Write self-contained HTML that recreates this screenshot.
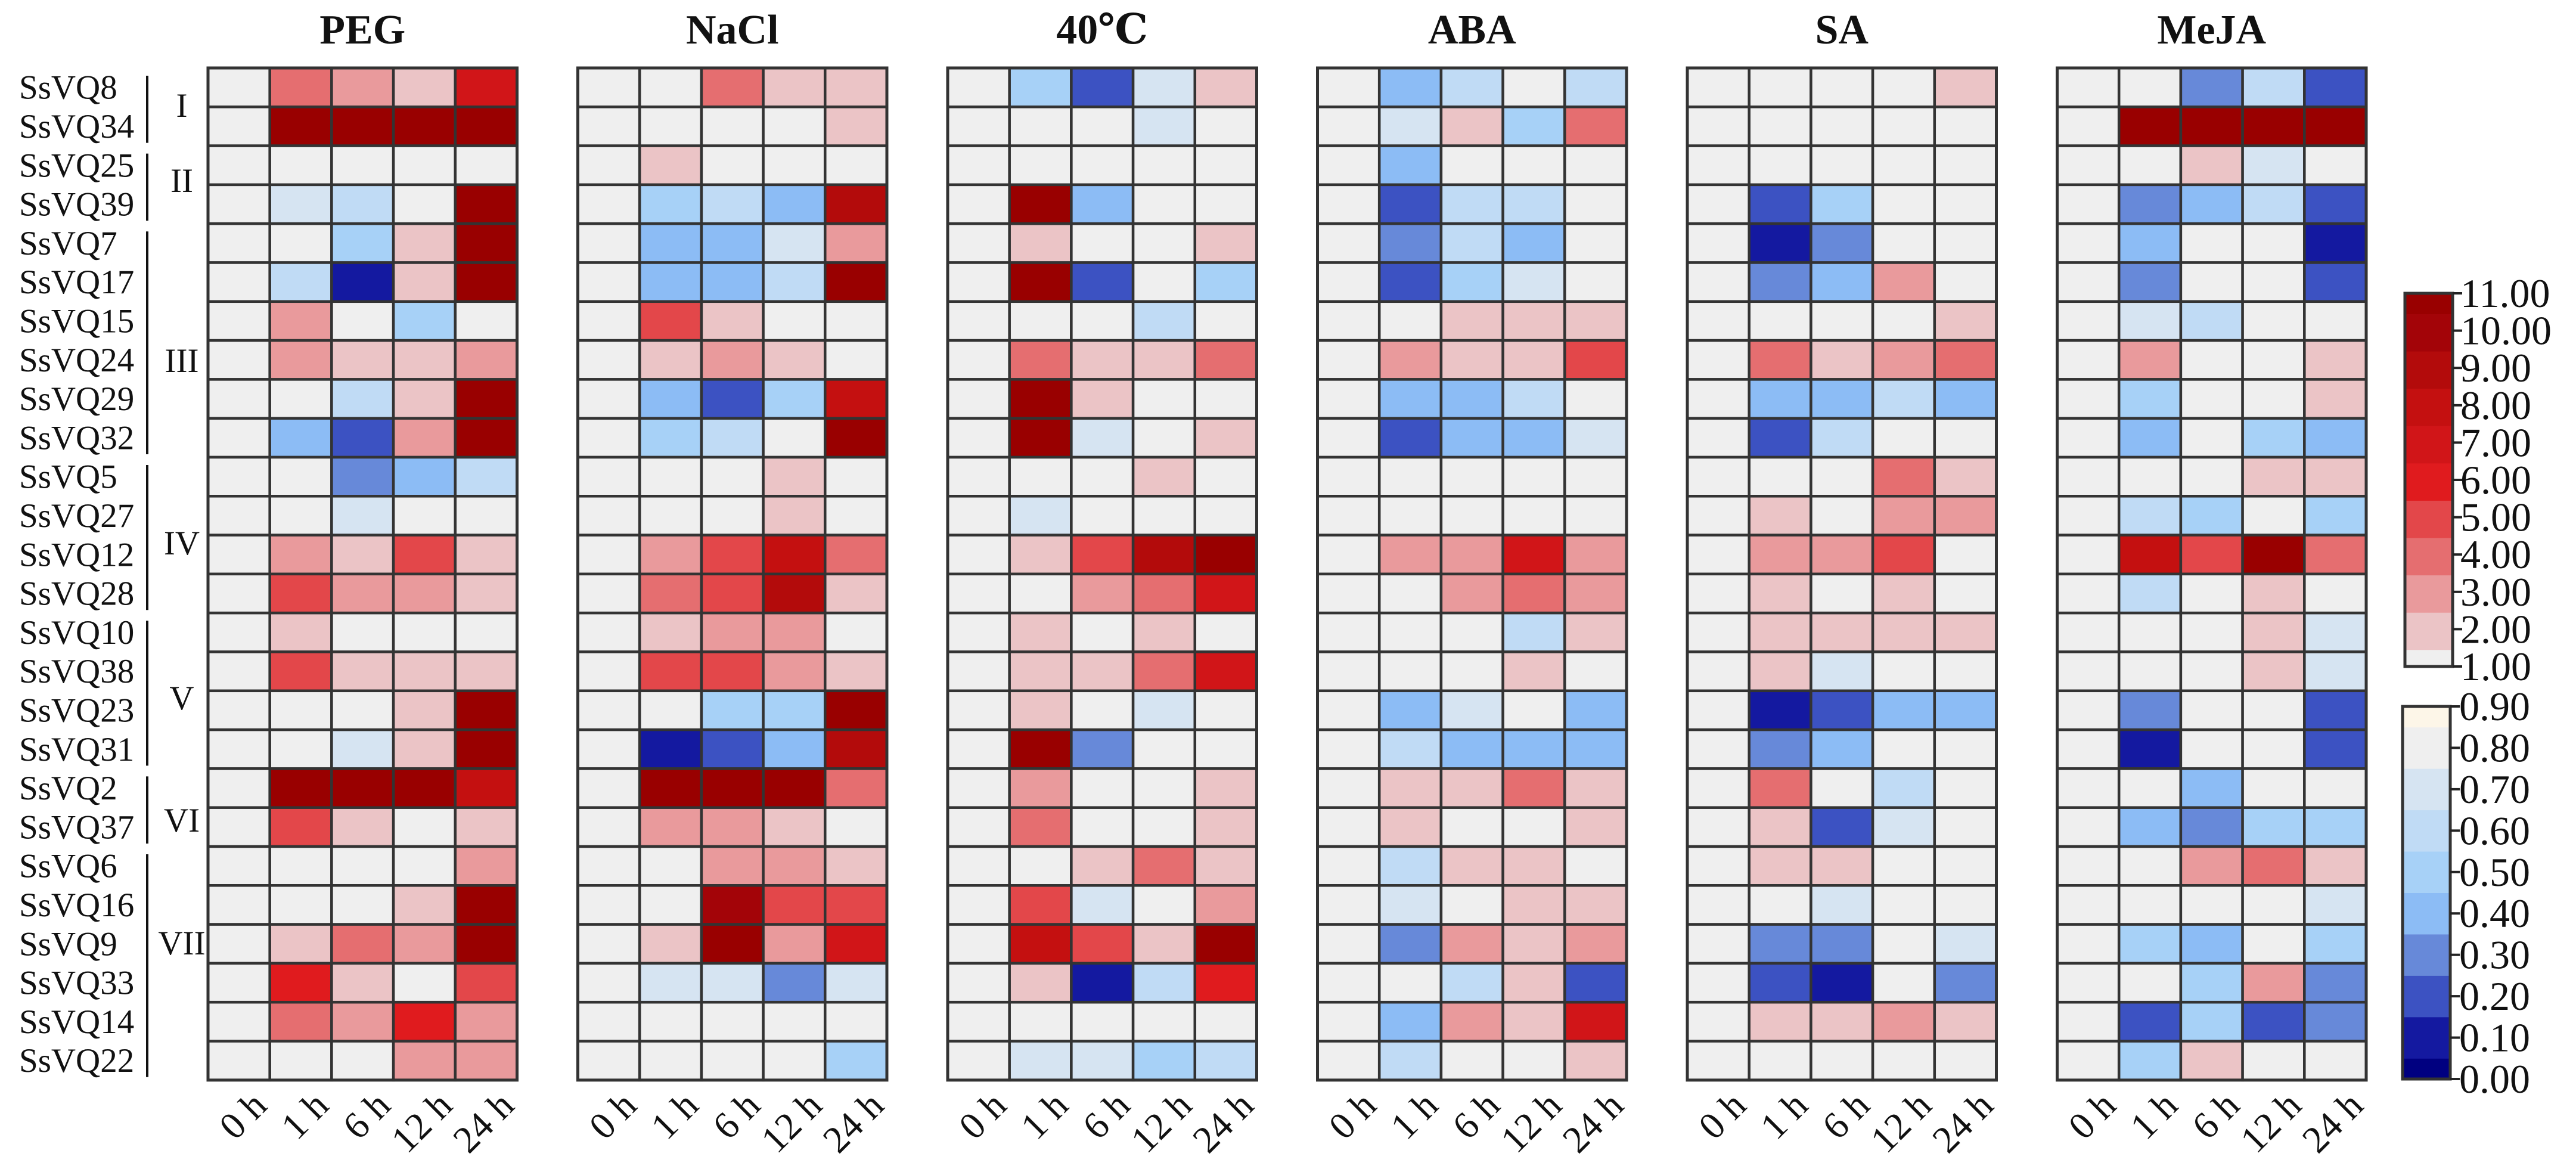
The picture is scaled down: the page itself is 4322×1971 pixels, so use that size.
<!DOCTYPE html>
<html><head><meta charset="utf-8"><style>
html,body{margin:0;padding:0;background:#fff;}
svg{display:block;}
text{font-family:"Liberation Serif","DejaVu Serif",serif;fill:#111;}
</style></head><body>
<svg id="chart" xmlns="http://www.w3.org/2000/svg" width="4322" height="1971" viewBox="0 0 4322 1971"></svg>
<script>
const genes = ["SsVQ8","SsVQ34","SsVQ25","SsVQ39","SsVQ7","SsVQ17","SsVQ15","SsVQ24","SsVQ29","SsVQ32","SsVQ5","SsVQ27","SsVQ12","SsVQ28","SsVQ10","SsVQ38","SsVQ23","SsVQ31","SsVQ2","SsVQ37","SsVQ6","SsVQ16","SsVQ9","SsVQ33","SsVQ14","SsVQ22"];
const times = ["0 h","1 h","6 h","12 h","24 h"];
const treatments = ["PEG","NaCl","40℃","ABA","SA","MeJA"];
const groupNames = ["I","II","III","IV","V","VI","VII"];
const groupStart = [0,2,4,10,14,18,20];
const groupEnd = [2,4,10,14,18,20,26];
const groupLabelY = [177,303,605,911,1171,1376,1582];
const redTicks = ["11.00","10.00","9.00","8.00","7.00","6.00","5.00","4.00","3.00","2.00","1.00"];
const blueTicks = ["0.90","0.80","0.70","0.60","0.50","0.40","0.30","0.20","0.10","0.00"];

const valPEG = [
[1,3.5,2.5,1.6,6.5],[1,10.5,10.5,10.5,10.5],[1,1,1,1,1],[1,.75,.65,1,10.5],[1,1,.55,1.6,10.5],
[1,.65,.15,1.6,10.5],[1,2.5,1,.55,1],[1,2.5,1.6,1.6,2.5],[1,1,.65,1.6,10.5],[1,.45,.25,2.5,10.5],
[1,1,.35,.45,.65],[1,1,.75,1,1],[1,2.5,1.6,4.5,1.6],[1,4.5,2.5,2.5,1.6],[1,1.6,1,1,1],
[1,4.5,1.6,1.6,1.6],[1,1,1,1.6,10.5],[1,1,.75,1.6,10.5],[1,10.5,10.5,10.5,7.5],[1,4.5,1.6,1,1.6],
[1,1,1,1,2.5],[1,1,1,1.6,10.5],[1,1.6,3.5,2.5,10.5],[1,5.5,1.6,1,4.5],[1,3.5,2.5,5.5,2.5],[1,1,1,2.5,2.5]];
const valNaCl = [
[1,1,3.5,1.6,1.6],[1,1,1,1,1.6],[1,1.6,1,1,1],[1,.55,.65,.45,8.5],[1,.45,.45,.75,2.5],
[1,.45,.45,.65,10.5],[1,4.5,1.6,1,1],[1,1.6,2.5,1.6,1],[1,.45,.25,.55,7.5],[1,.55,.65,1,10.5],
[1,1,1,1.6,1],[1,1,1,1.6,1],[1,2.5,4.5,7.5,3.5],[1,3.5,4.5,8.5,1.6],[1,1.6,2.5,2.5,1],
[1,4.5,4.5,2.5,1.6],[1,1,.55,.55,10.5],[1,.15,.25,.45,8.5],[1,10.5,10.5,10.5,3.5],[1,2.5,2.5,1.6,1],
[1,1,2.5,2.5,1.6],[1,1,9.5,4.5,4.5],[1,1.6,10.5,2.5,6.5],[1,.75,.75,.35,.75],[1,1,1,1,1],[1,1,1,1,.55]];
const valHeat = [
[1,.55,.25,.75,1.6],[1,1,1,.75,1],[1,1,1,1,1],[1,10.5,.45,1,1],[1,1.6,1,1,1.6],
[1,10.5,.25,1,.55],[1,1,1,.65,1],[1,3.5,1.6,1.6,3.5],[1,10.5,1.6,1,1],[1,10.5,.75,1,1.6],
[1,1,1,1.6,1],[1,.75,1,1,1],[1,1.6,4.5,8.5,10.5],[1,1,2.5,3.5,6.5],[1,1.6,1,1.6,1],
[1,1.6,1.6,3.5,6.5],[1,1.6,1,.75,1],[1,10.5,.35,1,1],[1,2.5,1,1,1.6],[1,3.5,1,1,1.6],
[1,1,1.6,3.5,1.6],[1,4.5,.75,1,2.5],[1,7.5,4.5,1.6,10.5],[1,1.6,.15,.65,5.5],[1,1,1,1,1],[1,.75,.75,.55,.65]];
const valABA = [
[1,.45,.65,1,.65],[1,.75,1.6,.55,3.5],[1,.45,1,1,1],[1,.25,.65,.65,1],[1,.35,.65,.45,1],
[1,.25,.55,.75,1],[1,1,1.6,1.6,1.6],[1,2.5,1.6,1.6,4.5],[1,.45,.45,.65,1],[1,.25,.45,.45,.75],
[1,1,1,1,1],[1,1,1,1,1],[1,2.5,2.5,6.5,2.5],[1,1,2.5,3.5,2.5],[1,1,1,.65,1.6],
[1,1,1,1.6,1],[1,.45,.75,1,.45],[1,.65,.45,.45,.45],[1,1.6,1.6,3.5,1.6],[1,1.6,1,1,1.6],
[1,.65,1.6,1.6,1],[1,.75,1,1.6,1.6],[1,.35,2.5,1.6,2.5],[1,1,.65,1.6,.25],[1,.45,2.5,1.6,6.5],[1,.65,1,1,1.6]];
const valSA = [
[1,1,1,1,1.6],[1,1,1,1,1],[1,1,1,1,1],[1,.25,.55,1,1],[1,.15,.35,1,1],
[1,.35,.45,2.5,1],[1,1,1,1,1.6],[1,3.5,1.6,2.5,3.5],[1,.45,.45,.65,.45],[1,.25,.65,1,1],
[1,1,1,3.5,1.6],[1,1.6,1,2.5,2.5],[1,2.5,2.5,4.5,1],[1,1.6,1,1.6,1],[1,1.6,1.6,1.6,1.6],
[1,1.6,.75,1,1],[1,.15,.25,.45,.45],[1,.35,.45,1,1],[1,3.5,1,.65,1],[1,1.6,.25,.75,1],
[1,1.6,1.6,1,1],[1,1,.75,1,1],[1,.35,.35,1,.75],[1,.25,.15,1,.35],[1,1.6,1.6,2.5,1.6],[1,1,1,1,1]];
const valMeJA = [
[1,1,.35,.65,.25],[1,10.5,10.5,10.5,10.5],[1,1,1.6,.75,1],[1,.35,.45,.65,.25],[1,.45,1,1,.15],
[1,.35,1,1,.25],[1,.75,.65,1,1],[1,2.5,1,1,1.6],[1,.55,1,1,1.6],[1,.45,1,.55,.45],
[1,1,1,1.6,1.6],[1,.65,.55,1,.55],[1,7.5,4.5,10.5,3.5],[1,.65,1,1.6,1],[1,1,1,1.6,.75],
[1,1,1,1.6,.75],[1,.35,1,1,.25],[1,.15,1,1,.25],[1,1,.45,1,1],[1,.45,.35,.55,.55],
[1,1,2.5,3.5,1.6],[1,1,1,1,.75],[1,.55,.45,1,.55],[1,1,.55,2.5,.35],[1,.25,.55,.25,.35],[1,.55,1.6,1,1]];
const allVals = [valPEG,valNaCl,valHeat,valABA,valSA,valMeJA];

const NS="http://www.w3.org/2000/svg";
const svg=document.getElementById('chart');
function mk(tag,attrs,parent){const e=document.createElementNS(NS,tag);for(const k in attrs)e.setAttribute(k,attrs[k]);(parent||svg).appendChild(e);return e;}

const gridTop=114, rowH=65.3, colW=103.7, panelX0=349, panelStep=620.5;
const xPos=(p,c)=>panelX0+p*panelStep+c*colW;
const yPos=r=>gridTop+r*rowH;

const redCols=["#efefef","#ebc4c6","#e99a9c","#e56e70","#e3474a","#e01b1e","#d11518","#c41010","#b30b0b","#a30408","#990000"];
const blueCols=["#000080","#1419a0","#3c52c2","#6789d9","#8cbcf5","#a7d1f7","#c0dbf5","#d6e4f2","#efefef","#fdf6e8"];
function colorOf(v){
  if(v>=1.2){const i=Math.min(10,Math.floor(v));return redCols[i];}
  if(v>=0.8)return "#efefef";
  const i=Math.max(0,Math.floor(v*10));return blueCols[i];
}

treatments.forEach((t,p)=>{
  const g=mk('g',{});
  
  
  const title=mk('text',{x:xPos(p,2.5),y:73,'text-anchor':'middle','font-size':70,'font-weight':'bold'},g);
  title.textContent=t;
  
  
  allVals[p].forEach((row,r)=>{
    row.forEach((v,c)=>{
      const cell=mk('rect',{x:xPos(p,c),y:yPos(r),width:colW,height:rowH,fill:colorOf(v),stroke:'#333',"stroke-width":4.5},g);
      
      
    });
  });
  mk('rect',{x:xPos(p,0),y:yPos(0),width:colW*5,height:rowH*26,fill:'none',stroke:'#333',"stroke-width":5},g);
  times.forEach((tm,c)=>{
    const cx=xPos(p,c+0.5)+50, cy=1858;
    const tx=mk('text',{x:cx,y:cy,'text-anchor':'end','font-size':64,transform:`rotate(-45 ${cx} ${cy})`},g);
    tx.textContent=tm;
    
    
  });
});

genes.forEach((gn,r)=>{
  const t=mk('text',{x:32,y:yPos(r+0.5)+19,'font-size':57});
  t.textContent=gn;
  
  
});
groupNames.forEach((gname,i)=>{
  const l=mk('line',{x1:247,x2:247,y1:yPos(groupStart[i])+13,y2:yPos(groupEnd[i])-5,stroke:'#111',"stroke-width":4});
  
  
  const t=mk('text',{x:305,y:groupLabelY[i]+19,'text-anchor':'middle','font-size':57});
  t.textContent=gname;
  
  
});

const rTop=492,rBot=1118,rX=4035,rW=80;
const rY=v=>rBot-(v-1)*(rBot-rTop)/10;
const rBounds=[1,1.45,2.45,3.45,4.45,5.45,6.45,7.45,8.45,9.45,10.45,11];
const cbR=mk('g',{});


for(let i=0;i<11;i++){mk('rect',{x:rX,y:rY(rBounds[i+1]),width:rW,height:rY(rBounds[i])-rY(rBounds[i+1])+0.5,fill:redCols[i]},cbR);}
mk('rect',{x:rX,y:rTop,width:rW,height:rBot-rTop,fill:'none',stroke:'#333',"stroke-width":5},cbR);
redTicks.forEach((lab,i)=>{const y=rY(11-i);
  mk('line',{x1:rX+rW,x2:rX+rW+16,y1:y,y2:y,stroke:'#222',"stroke-width":4},cbR);
  const t=mk('text',{x:4128,y:y+23,'font-size':68},cbR);t.textContent=lab;
  
  
});
const bTop=1185,bBot=1810,bX=4031,bW=80;
const bY=v=>bBot-v*(bBot-bTop)/0.9;
const bBounds=[0,0.05,0.15,0.25,0.35,0.45,0.55,0.65,0.75,0.85,0.9];
const cbB=mk('g',{});


for(let i=0;i<10;i++){mk('rect',{x:bX,y:bY(bBounds[i+1]),width:bW,height:bY(bBounds[i])-bY(bBounds[i+1])+0.5,fill:blueCols[i]},cbB);}
mk('rect',{x:bX,y:bTop,width:bW,height:bBot-bTop,fill:'none',stroke:'#333',"stroke-width":5},cbB);
blueTicks.forEach((lab,i)=>{const y=bY(0.9-i*0.1);
  mk('line',{x1:bX+bW,x2:bX+bW+16,y1:y,y2:y,stroke:'#222',"stroke-width":4},cbB);
  const t=mk('text',{x:4126,y:y+23,'font-size':68},cbB);t.textContent=lab;
  
  
});
</script>
</body></html>
